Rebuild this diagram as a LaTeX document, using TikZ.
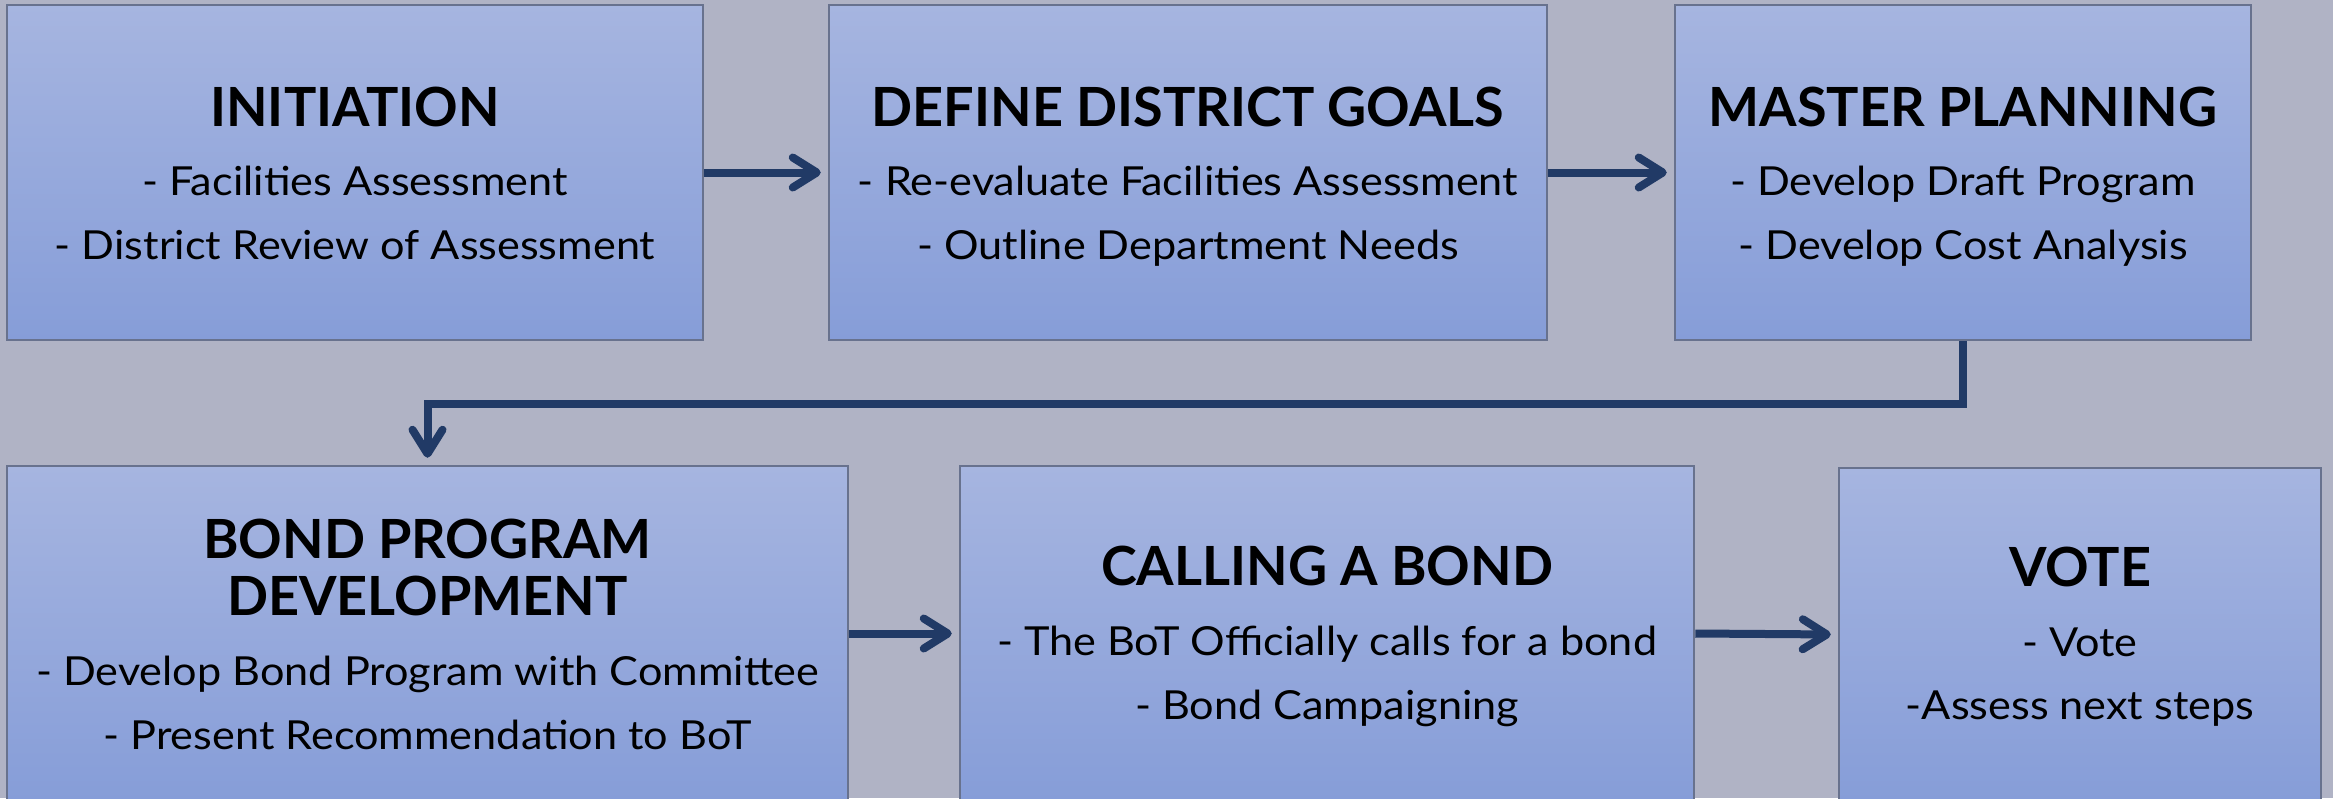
\documentclass[tikz,border=0pt]{standalone}
\usepackage{graphicx}
\usepackage{fontspec}
\setmainfont{Lato}
\usetikzlibrary{arrows.meta}
\definecolor{bg}{RGB}{176,179,197}
\definecolor{boxtop}{RGB}{166,181,224}
\definecolor{boxbot}{RGB}{134,157,216}
\definecolor{boxline}{RGB}{104,114,142}
\definecolor{navy}{RGB}{33,58,102}
\newcommand{\widetxt}[1]{\scalebox{1.08}[1]{#1}}
\tikzset{
  stage/.style={draw=boxline, line width=2.5pt, top color=boxtop, bottom color=boxbot, inner sep=0pt, rectangle},
  ttl/.style={font={\fontsize{54}{60}\selectfont\bfseries}, inner sep=0pt, anchor=base, text=black},
  itm/.style={font={\fontsize{40}{46}\selectfont}, inner sep=0pt, anchor=base, text=black},
  conn/.style={draw=navy, line width=8pt, -{Straight Barb[round, length=24pt, width=30pt]}, shorten >=7pt}
}
\begin{document}
\begin{tikzpicture}[x=1pt,y=-1pt]
\path[use as bounding box, fill=bg] (0,0) rectangle (2333,798);
\clip (0,0) rectangle (2333,798);
% boxes
\node[stage, minimum width=696pt, minimum height=335pt] (b1) at (355,172.5) {};
\node[stage, minimum width=718pt, minimum height=335pt] (b2) at (1188,172.5) {};
\node[stage, minimum width=576pt, minimum height=335pt] (b3) at (1963,172.5) {};
\node[stage, minimum width=841pt, minimum height=335pt] (b4) at (427.5,633.5) {};
\node[stage, minimum width=734pt, minimum height=335pt] (b5) at (1327,633.5) {};
\node[stage, minimum width=482pt, minimum height=333pt] (b6) at (2080,634.5) {};
% texts box 1
\node[ttl] (t1) at (355,126) {INITIATION};
\node[itm] (t1a) at (355,195) {\widetxt{- Facilities Assessment}};
\node[itm] (t1b) at (355,259) {\widetxt{- District Review of Assessment}};
% box 2
\node[ttl] (t2) at (1188,126) {DEFINE DISTRICT GOALS};
\node[itm] (t2a) at (1188,195) {\widetxt{- Re-evaluate Facilities Assessment}};
\node[itm] (t2b) at (1188,259) {\widetxt{- Outline Department Needs}};
% box 3
\node[ttl] (t3) at (1963,126) {MASTER PLANNING};
\node[itm] (t3a) at (1963,195) {\widetxt{- Develop Draft Program}};
\node[itm] (t3b) at (1963,259) {\widetxt{- Develop Cost Analysis}};
% box 4
\node[ttl] (t4) at (427.5,558) {BOND PROGRAM};
\node[ttl] (t4x) at (427.5,615) {DEVELOPMENT};
\node[itm] (t4a) at (427.5,685) {\widetxt{- Develop Bond Program with Committee}};
\node[itm] (t4b) at (427.5,749) {\widetxt{- Present Recommendation to BoT}};
% box 5
\node[ttl] (t5) at (1327,585) {CALLING A BOND};
\node[itm] (t5a) at (1327,655) {\widetxt{- The BoT Officially calls for a bond}};
\node[itm] (t5b) at (1327,719) {\widetxt{- Bond Campaigning}};
% box 6
\node[ttl] (t6) at (2080,586) {VOTE};
\node[itm] (t6a) at (2080,656) {\widetxt{- Vote}};
\node[itm] (t6b) at (2080,719) {\widetxt{-Assess next steps}};
% connectors
\draw[conn] (b1.east) -- (b2.west);
\draw[conn] (b2.east) -- (b3.west);
\draw[conn] (b3.south) -- ++(0,63) -| (b4.north);
\draw[conn] (b4.east) -- (b5.west);
\draw[conn] (b5.east) -- (b6.west);
\end{tikzpicture}
\end{document}
